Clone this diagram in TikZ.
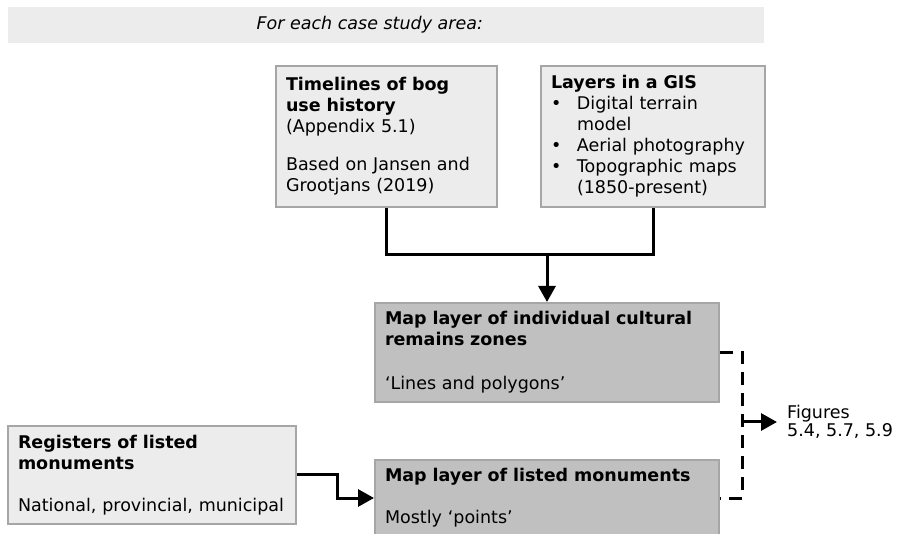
\documentclass[tikz,border=0pt]{standalone}
\usepackage{fontspec}
\setmainfont{DejaVu Sans}
\usetikzlibrary{arrows.meta}
\definecolor{boxline}{HTML}{A6A6A6}
\definecolor{paleface}{HTML}{ECECEC}
\definecolor{darkface}{HTML}{C0C0C0}
\newcommand\diagfont{\fontsize{17.5}{21}\selectfont}
\newcommand\gisbullet{\makebox[26pt][l]{•}}
\tikzset{
  band/.style={fill=paleface, inner sep=0pt},
  box/.style={draw=boxline, line width=2pt, fill=paleface, inner xsep=10pt,
    inner ysep=0pt, align=left, font=\diagfont},
  darkbox/.style={box, fill=darkface},
  wire/.style={line width=3pt},
  arrowed/.style={-{Triangle[length=16pt,width=17pt]}}
}
\begin{document}
\begin{tikzpicture}[x=1pt, y=-1pt]
   \useasboundingbox (0,0) rectangle (900,534);
   \clip (0,0) rectangle (900,534);
   % header strip
   \node[band, minimum width=756pt, minimum height=36pt] (strip) at (386,25) {};
   \node[anchor=west, font=\diagfont\itshape] (title) at (253,25) {For each case study area:};
   % source boxes
   \node[box, text width=201pt, minimum height=141pt] (timeline) at (386.5,136.5)
     {\textbf{Timelines of bog\\use history}\\(Appendix 5.1)\\[17pt]Based on Jansen and\\Grootjans (2019)};
   \node[box, text width=204pt, minimum height=141pt] (gis) at (653,136.5)
     {\textbf{Layers in a GIS}\\\gisbullet Digital terrain\\\hspace*{26pt}model\\
      \gisbullet Aerial photography\\\gisbullet Topographic maps\\\hspace*{26pt}(1850-present)};
   \node[box, text width=268pt, minimum height=98pt] (registers) at (152,475)
     {\textbf{Registers of listed\\monuments}\\[21pt]National, provincial, municipal};
   % map layers
   \node[darkbox, text width=324pt, minimum height=99pt] (zones) at (547,352.5)
     {\textbf{Map layer of individual cultural\\remains zones}\\[23pt]‘Lines and polygons’};
   \node[darkbox, text width=324pt, minimum height=76pt] (listed) at (547,498)
     {\textbf{Map layer of listed monuments}\\[21pt]Mostly ‘points’};
   \node[anchor=west, inner xsep=10pt, align=left, font=\fontsize{17.5}{16}\selectfont]
     (figs) at (777,422) {Figures\\5.4, 5.7, 5.9};
   % connectors
   \coordinate (join) at (547,255);
   \foreach \src in {timeline,gis}
     \draw[wire] (\src.south) |- (join);
   \draw[wire, arrowed] (join) -- (zones.north);
   \draw[wire, arrowed] (registers.east) -- ++(40,0) |- (listed.west);
   \coordinate (fork) at (742,422);
   \draw[wire, dash pattern=on 13pt off 8pt] (zones.east) -| (fork) |- (listed.east);
   \draw[wire, arrowed] (fork) -- (figs.west);
\end{tikzpicture}
\end{document}
